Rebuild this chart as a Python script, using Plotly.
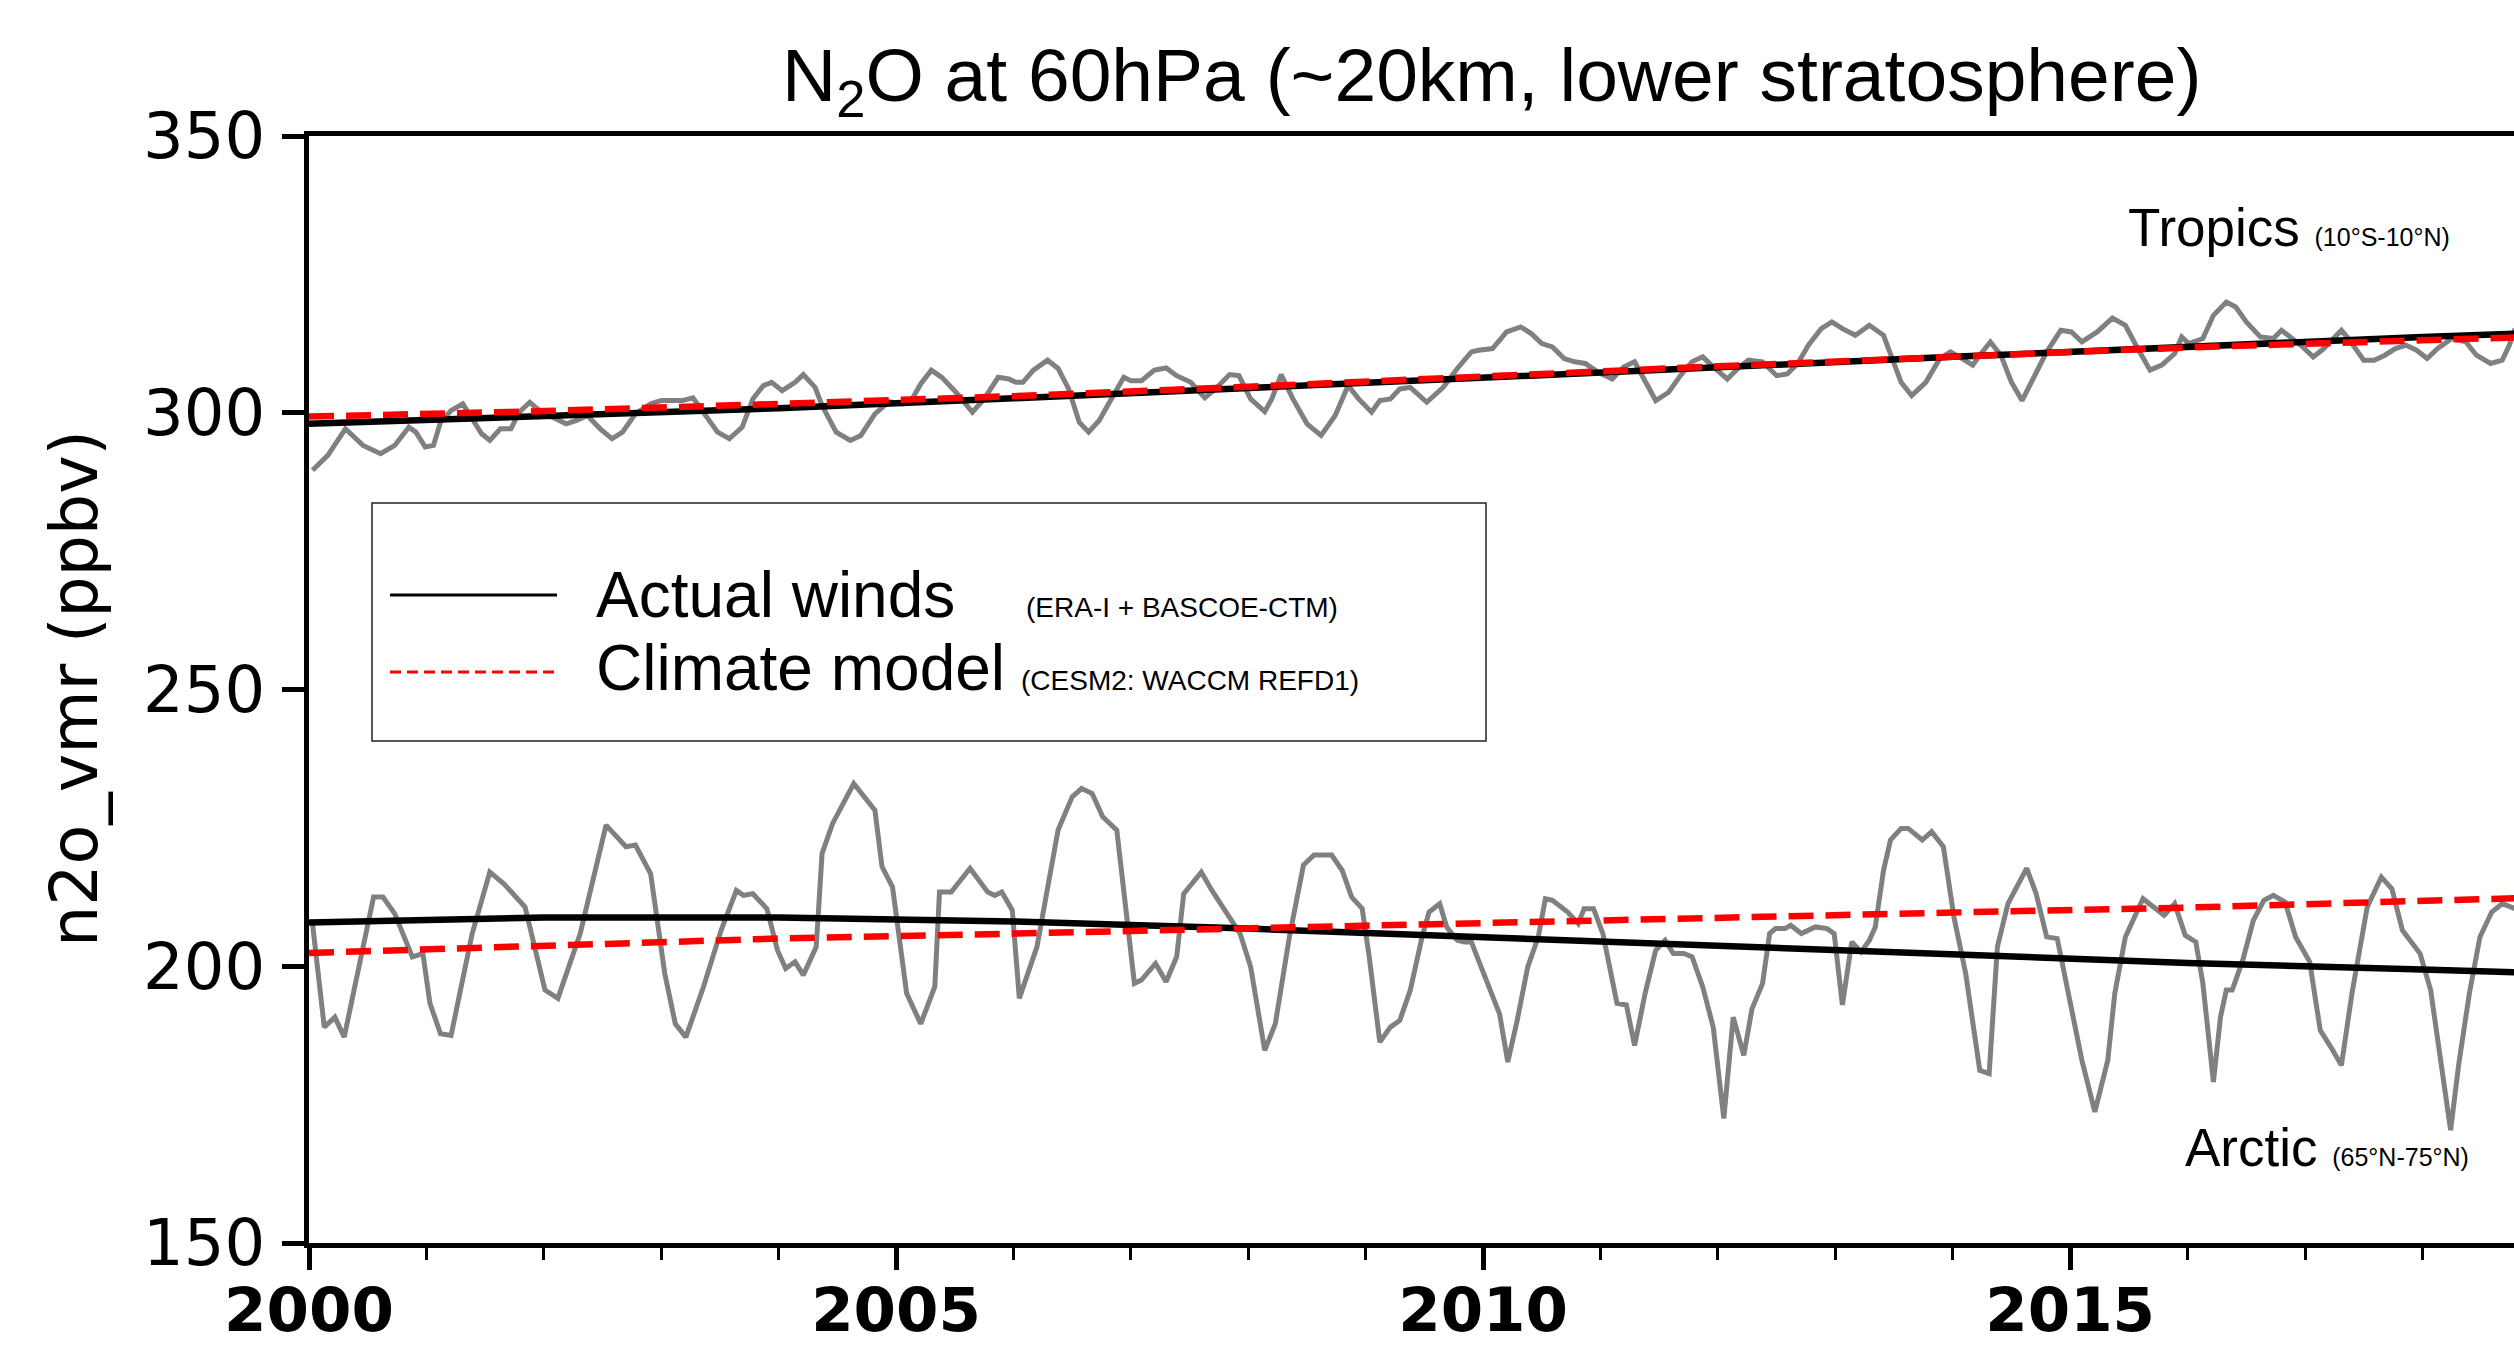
import plotly.graph_objects as go

# ---------------- data ----------------
# Tropics (10°S-10°N) N2O at 60 hPa, grey curve: decimal year / ppbv
tropics_year = [
    2000.03, 2000.16, 2000.31, 2000.46, 2000.61, 2000.73, 2000.85, 2000.91, 2000.99, 2001.06,
    2001.12, 2001.21, 2001.31, 2001.39, 2001.47, 2001.54, 2001.63, 2001.72, 2001.79, 2001.88,
    2001.98, 2002.10, 2002.19, 2002.28, 2002.37, 2002.48, 2002.58, 2002.67, 2002.78, 2002.91,
    2003.00, 2003.09, 2003.18, 2003.27, 2003.36, 2003.48, 2003.58, 2003.69, 2003.78, 2003.87,
    2003.94, 2004.03, 2004.14, 2004.21, 2004.31, 2004.37, 2004.49, 2004.61, 2004.70, 2004.82,
    2004.94, 2005.06, 2005.13, 2005.21, 2005.30, 2005.39, 2005.51, 2005.65, 2005.75, 2005.87,
    2005.96, 2006.02, 2006.08, 2006.17, 2006.29, 2006.38, 2006.47, 2006.56, 2006.64, 2006.73,
    2006.85, 2006.94, 2007.00, 2007.09, 2007.20, 2007.30, 2007.39, 2007.51, 2007.63, 2007.72,
    2007.84, 2007.92, 2008.02, 2008.14, 2008.20, 2008.28, 2008.38, 2008.50, 2008.62, 2008.74,
    2008.85, 2008.94, 2009.05, 2009.12, 2009.21, 2009.29, 2009.38, 2009.52, 2009.66, 2009.78,
    2009.90, 2009.96, 2010.08, 2010.20, 2010.32, 2010.41, 2010.50, 2010.59, 2010.69, 2010.78,
    2010.87, 2010.98, 2011.10, 2011.20, 2011.29, 2011.38, 2011.47, 2011.58, 2011.68, 2011.78,
    2011.87, 2011.96, 2012.08, 2012.17, 2012.26, 2012.38, 2012.50, 2012.59, 2012.68, 2012.77,
    2012.88, 2012.97, 2013.06, 2013.17, 2013.29, 2013.41, 2013.50, 2013.56, 2013.65, 2013.77,
    2013.89, 2013.98, 2014.08, 2014.17, 2014.23, 2014.32, 2014.41, 2014.50, 2014.59, 2014.68,
    2014.80, 2014.92, 2015.01, 2015.10, 2015.23, 2015.36, 2015.47, 2015.56, 2015.68, 2015.78,
    2015.89, 2015.95, 2016.01, 2016.13, 2016.22, 2016.33, 2016.41, 2016.50, 2016.62, 2016.73,
    2016.80, 2016.89, 2016.98, 2017.07, 2017.16, 2017.31, 2017.37, 2017.50, 2017.59, 2017.68,
    2017.77, 2017.86, 2017.95, 2018.04, 2018.13, 2018.25, 2018.37, 2018.46, 2018.58, 2018.68,
    2018.74, 2018.79,
]
tropics_n2o = [
    289.6, 292.3, 297.1, 294.1, 292.6, 294.1, 297.4, 296.5, 293.8, 294.1,
    298.3, 300.4, 301.6, 298.9, 296.2, 295.0, 297.1, 297.1, 300.1, 301.9,
    300.1, 298.9, 298.0, 298.6, 299.5, 297.1, 295.3, 296.5, 299.8, 301.6,
    302.2, 302.2, 302.2, 302.7, 300.1, 296.5, 295.3, 297.4, 302.5, 304.9,
    305.5, 304.0, 305.5, 306.9, 304.6, 301.3, 296.5, 295.0, 295.9, 299.8,
    302.0, 301.6, 302.2, 305.2, 307.7, 306.4, 303.7, 300.1, 302.5, 306.4,
    306.1, 305.5, 305.5, 307.7, 309.5, 308.0, 304.3, 298.3, 296.5, 298.6,
    303.1, 306.4, 305.8, 305.8, 307.7, 308.1, 306.7, 305.5, 302.7, 304.3,
    306.9, 306.7, 302.5, 300.2, 302.5, 306.9, 302.5, 298.0, 295.9, 299.5,
    304.9, 302.5, 300.1, 302.2, 302.5, 304.3, 304.6, 301.9, 304.6, 308.0,
    311.0, 311.3, 311.6, 314.6, 315.5, 314.3, 312.5, 311.9, 309.8, 309.2,
    308.9, 307.3, 306.1, 308.3, 309.2, 305.5, 302.2, 303.7, 306.7, 309.2,
    310.1, 308.3, 306.1, 308.0, 309.5, 309.2, 306.7, 307.0, 308.9, 312.2,
    315.2, 316.4, 315.2, 314.0, 315.8, 314.0, 309.2, 305.5, 303.1, 305.5,
    309.8, 311.0, 309.8, 308.6, 310.4, 312.8, 310.4, 305.5, 302.2, 306.1,
    311.0, 314.9, 314.6, 312.8, 314.6, 317.1, 315.8, 312.2, 307.7, 308.6,
    310.7, 313.7, 312.5, 313.4, 317.6, 320.0, 319.1, 316.4, 313.7, 313.4,
    314.9, 313.4, 311.9, 310.1, 311.6, 314.9, 313.4, 309.5, 309.5, 310.4,
    311.6, 312.2, 311.3, 309.8, 311.6, 313.4, 312.8, 310.4, 308.9, 309.5,
    312.2, 315.2,
]

# Arctic (65°N-75°N) N2O at 60 hPa, grey curve: decimal year / ppbv
arctic_year = [
    2000.03, 2000.13, 2000.22, 2000.30, 2000.55, 2000.63, 2000.73, 2000.88, 2000.97, 2001.03,
    2001.12, 2001.21, 2001.39, 2001.54, 2001.66, 2001.84, 2002.01, 2002.12, 2002.31, 2002.53,
    2002.70, 2002.78, 2002.91, 2003.03, 2003.12, 2003.21, 2003.36, 2003.51, 2003.64, 2003.70,
    2003.78, 2003.90, 2003.99, 2004.06, 2004.14, 2004.21, 2004.32, 2004.37, 2004.46, 2004.64,
    2004.82, 2004.88, 2004.97, 2005.09, 2005.21, 2005.33, 2005.37, 2005.47, 2005.63, 2005.78,
    2005.84, 2005.90, 2005.99, 2006.05, 2006.20, 2006.38, 2006.50, 2006.58, 2006.67, 2006.76,
    2006.88, 2007.03, 2007.09, 2007.21, 2007.30, 2007.39, 2007.45, 2007.60, 2007.69, 2007.93,
    2008.02, 2008.14, 2008.23, 2008.35, 2008.47, 2008.56, 2008.71, 2008.80, 2008.88, 2008.97,
    2009.03, 2009.12, 2009.21, 2009.29, 2009.38, 2009.48, 2009.54, 2009.63, 2009.69, 2009.78,
    2009.84, 2009.90, 2009.96, 2010.05, 2010.14, 2010.21, 2010.29, 2010.38, 2010.47, 2010.53,
    2010.59, 2010.72, 2010.81, 2010.86, 2010.94, 2011.02, 2011.08, 2011.14, 2011.22, 2011.29,
    2011.38, 2011.47, 2011.55, 2011.62, 2011.71, 2011.78, 2011.87, 2011.96, 2012.05, 2012.13,
    2012.22, 2012.29, 2012.38, 2012.44, 2012.49, 2012.57, 2012.62, 2012.71, 2012.83, 2012.93,
    2012.99, 2013.06, 2013.14, 2013.22, 2013.29, 2013.34, 2013.41, 2013.47, 2013.56, 2013.62,
    2013.74, 2013.82, 2013.92, 2014.01, 2014.11, 2014.23, 2014.31, 2014.38, 2014.47, 2014.63,
    2014.71, 2014.80, 2014.89, 2014.98, 2015.10, 2015.21, 2015.32, 2015.38, 2015.47, 2015.62,
    2015.71, 2015.80, 2015.89, 2015.98, 2016.07, 2016.13, 2016.22, 2016.28, 2016.33, 2016.38,
    2016.47, 2016.56, 2016.65, 2016.73, 2016.83, 2016.92, 2017.04, 2017.13, 2017.22, 2017.31,
    2017.40, 2017.53, 2017.65, 2017.74, 2017.83, 2017.98, 2018.07, 2018.16, 2018.24, 2018.31,
    2018.40, 2018.49, 2018.59, 2018.68, 2018.79,
]
arctic_n2o = [
    207.7, 189.0, 190.8, 187.2, 212.5, 212.5, 209.5, 201.7, 202.3, 193.3,
    187.8, 187.5, 205.9, 217.0, 214.9, 210.7, 195.7, 194.2, 205.9, 225.5,
    221.6, 221.9, 216.7, 198.7, 189.6, 187.2, 196.3, 206.5, 213.7, 212.8,
    213.1, 210.4, 202.9, 199.6, 200.8, 198.4, 203.5, 220.4, 225.8, 233.0,
    228.2, 218.0, 214.3, 195.1, 189.6, 196.3, 213.4, 213.4, 217.7, 213.4,
    212.8, 213.4, 210.1, 194.2, 203.5, 224.6, 230.6, 232.1, 231.2, 227.0,
    224.6, 196.9, 197.5, 200.5, 197.2, 201.7, 213.1, 217.0, 213.7, 205.9,
    199.9, 184.8, 189.6, 205.3, 218.3, 220.1, 220.1, 217.3, 212.5, 210.4,
    201.7, 186.3, 189.0, 190.2, 195.7, 205.3, 209.8, 211.3, 207.1, 204.7,
    204.4, 204.4, 201.1, 196.3, 191.4, 182.7, 190.2, 199.9, 205.3, 212.2,
    211.9, 209.8, 207.7, 210.4, 210.4, 205.9, 199.9, 193.3, 193.0, 185.7,
    195.1, 202.9, 204.7, 202.3, 202.3, 201.7, 196.3, 189.0, 172.5, 190.8,
    183.9, 192.3, 196.9, 205.9, 206.8, 206.8, 207.4, 205.9, 207.1, 206.8,
    205.9, 193.0, 204.4, 202.6, 204.7, 207.1, 217.3, 222.8, 224.9, 224.9,
    222.8, 224.3, 221.6, 208.9, 198.7, 181.2, 180.6, 203.5, 211.3, 217.7,
    213.1, 205.3, 205.0, 195.7, 183.0, 173.7, 183.0, 195.1, 205.3, 212.2,
    210.7, 209.2, 211.3, 205.6, 204.4, 196.9, 179.1, 190.8, 195.7, 195.7,
    201.1, 208.3, 211.9, 212.8, 211.6, 205.3, 200.8, 188.4, 185.4, 182.1,
    195.1, 210.7, 216.1, 214.0, 206.5, 202.3, 195.7, 183.0, 170.4, 182.4,
    195.1, 205.3, 209.8, 211.3, 210.4,
]

# Smooth trend curves
trend_year = [2000, 2002, 2004, 2006, 2008, 2010, 2012, 2014, 2016, 2018, 2018.8]
tropics_actual = [298.0, 299.3, 300.8, 302.6, 304.4, 306.3, 308.2, 310.1, 312.0, 313.7, 314.3]
tropics_model = [299.3, 300.3, 301.6, 303.0, 304.7, 306.6, 308.4, 310.1, 311.8, 313.1, 313.6]
arctic_actual = [207.9, 208.8, 208.8, 208.1, 206.8, 205.3, 203.7, 202.2, 200.6, 199.4, 198.9]
arctic_model = [202.4, 203.8, 205.0, 205.9, 206.9, 207.8, 208.7, 209.7, 210.6, 211.8, 212.3]

x_ticks = [2000, 2005, 2010, 2015]
y_ticks = [150, 200, 250, 300, 350]

title_text = "N<sub>2</sub>O at 60hPa (~20km, lower stratosphere)"
y_title = "n2o_vmr (ppbv)"
legend_main = ["Actual winds", "Climate model"]
legend_sub = ["(ERA-I + BASCOE-CTM)", "(CESM2: WACCM REFD1)"]

# ---------------- layout geometry (pixels) ----------------
W, H = 2514, 1348
L, R, T, B = 309, 0, 136, 105
PW, PH = W - L - R, H - T - B


def px(x):
    return (x - L) / PW


def py(y):
    return (H - B - y) / PH


SANS = "Liberation Sans, Arial, sans-serif"
DJV = "DejaVu Sans, sans-serif"

fig = go.Figure()

grey = dict(color="#808080", width=5)
fig.add_trace(go.Scatter(x=tropics_year, y=tropics_n2o, mode="lines", line=grey,
                         showlegend=False, hoverinfo="skip"))
fig.add_trace(go.Scatter(x=arctic_year, y=arctic_n2o, mode="lines", line=grey,
                         showlegend=False, hoverinfo="skip"))
for series in (tropics_actual, arctic_actual):
    fig.add_trace(go.Scatter(x=trend_year, y=series, mode="lines",
                             line=dict(color="black", width=6.5),
                             name=legend_main[0], showlegend=False))
for series in (tropics_model, arctic_model):
    fig.add_trace(go.Scatter(x=trend_year, y=series, mode="lines",
                             line=dict(color="#ff0000", width=6.5, dash="25px,12px"),
                             name=legend_main[1], showlegend=False))

shapes = [
    # legend frame
    dict(type="rect", xref="paper", yref="paper", x0=px(372), x1=px(1486),
         y0=py(741), y1=py(503), line=dict(color="#222222", width=1.5),
         fillcolor="white", layer="above"),
    dict(type="line", xref="paper", yref="paper", x0=px(390), x1=px(557),
         y0=py(595), y1=py(595), line=dict(color="black", width=3), layer="above"),
    dict(type="line", xref="paper", yref="paper", x0=px(390), x1=px(557),
         y0=py(672), y1=py(672), line=dict(color="#ff0000", width=3, dash="11px,6px"),
         layer="above"),
]

annotations = [
    dict(text=title_text, xref="paper", yref="paper", x=px(1491), y=py(80),
         xanchor="center", yanchor="middle", showarrow=False,
         font=dict(family=SANS, size=75, color="black")),
    dict(text=y_title, xref="paper", yref="paper", x=px(75), y=py(689),
         xanchor="center", yanchor="middle", showarrow=False, textangle=-90,
         font=dict(family=DJV, size=65, color="black")),
    dict(text="Tropics <span style='font-size:25px'>(10°S-10°N)</span>",
         xref="paper", yref="paper", x=px(2452), y=py(227),
         xanchor="right", yanchor="middle", showarrow=False,
         font=dict(family=SANS, size=53, color="black")),
    dict(text="Arctic <span style='font-size:25px'>(65°N-75°N)</span>",
         xref="paper", yref="paper", x=px(2471), y=py(1147),
         xanchor="right", yanchor="middle", showarrow=False,
         font=dict(family=SANS, size=53, color="black")),
    dict(text=legend_main[0], xref="paper", yref="paper", x=px(594), y=py(595),
         xanchor="left", yanchor="middle", showarrow=False,
         font=dict(family=SANS, size=64, color="black")),
    dict(text=legend_sub[0], xref="paper", yref="paper", x=px(1024), y=py(607),
         xanchor="left", yanchor="middle", showarrow=False,
         font=dict(family=SANS, size=28, color="black")),
    dict(text=legend_main[1], xref="paper", yref="paper", x=px(594), y=py(668),
         xanchor="left", yanchor="middle", showarrow=False,
         font=dict(family=SANS, size=64, color="black")),
    dict(text=legend_sub[1], xref="paper", yref="paper", x=px(1019), y=py(680),
         xanchor="left", yanchor="middle", showarrow=False,
         font=dict(family=SANS, size=28, color="black")),
]

fig.update_layout(
    width=W, height=H,
    margin=dict(l=L, r=R, t=T, b=B, pad=0, autoexpand=False),
    paper_bgcolor="white", plot_bgcolor="white",
    showlegend=False,
    shapes=shapes,
    annotations=annotations,
    xaxis=dict(
        range=[2000, 2018.78], tickvals=x_ticks, ticktext=[str(v) for v in x_ticks],
        showline=True, linecolor="black", linewidth=5, mirror=True,
        ticks="outside", ticklen=22, tickwidth=5, tickcolor="black",
        tickfont=dict(family=DJV, size=61, color="black", weight="bold"),
        ticklabelstandoff=-12, automargin=False,
        minor=dict(dtick=1, tick0=2000, ticks="outside", ticklen=12, tickwidth=3,
                   tickcolor="black", showgrid=False),
        showgrid=False, zeroline=False,
    ),
    yaxis=dict(
        range=[150, 350], tickvals=y_ticks, ticktext=[str(v) for v in y_ticks],
        showline=True, linecolor="black", linewidth=5,
        ticks="outside", ticklen=22, tickwidth=5, tickcolor="black",
        tickfont=dict(family=DJV, size=64, color="black"),
        ticklabelstandoff=4, automargin=False,
        showgrid=False, zeroline=False,
    ),
)

fig.write_html("out.html", config={"displayModeBar": False},
               post_script="document.body.style.margin='0';document.body.style.overflow='hidden';")
